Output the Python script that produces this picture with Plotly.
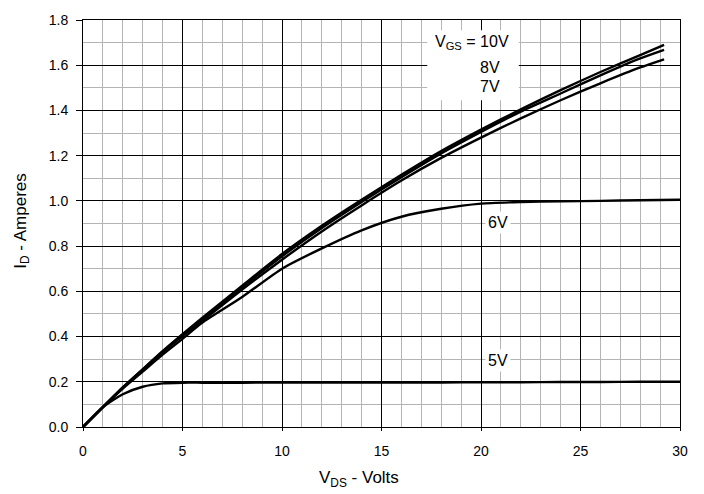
import plotly.graph_objects as go

# Drain-source voltage samples (V)
vds = [0, 1, 2, 3, 4, 5, 6, 8, 10, 12, 14, 16, 18, 20, 22, 24, 26, 28, 29.2]
vds_flat = [0, 1, 2, 3, 4, 5, 6, 8, 10, 12, 14, 16, 18, 20, 22, 24, 26, 28, 30]

# Drain current (A) for each gate voltage
id_10v = [0, 0.088, 0.175, 0.255, 0.335, 0.41, 0.483, 0.625, 0.765, 0.89, 1.005, 1.115, 1.22, 1.315, 1.405, 1.49, 1.57, 1.645, 1.69]
id_8v = [0, 0.088, 0.175, 0.255, 0.333, 0.407, 0.478, 0.618, 0.755, 0.88, 0.995, 1.105, 1.21, 1.305, 1.395, 1.475, 1.555, 1.63, 1.668]
id_7v = [0, 0.088, 0.174, 0.253, 0.33, 0.402, 0.47, 0.608, 0.74, 0.865, 0.98, 1.09, 1.19, 1.28, 1.365, 1.445, 1.52, 1.59, 1.626]
id_6v = [0, 0.088, 0.17, 0.245, 0.32, 0.39, 0.462, 0.575, 0.70, 0.79, 0.87, 0.93, 0.965, 0.988, 0.995, 0.998, 1.0, 1.003, 1.005]
id_5v = [0, 0.088, 0.145, 0.178, 0.193, 0.196, 0.196, 0.196, 0.197, 0.197, 0.197, 0.197, 0.197, 0.198, 0.198, 0.199, 0.199, 0.2, 0.2]

x_ticks = [0, 5, 10, 15, 20, 25, 30]
y_ticks = [0.0, 0.2, 0.4, 0.6, 0.8, 1.0, 1.2, 1.4, 1.6, 1.8]

FONT = "Liberation Sans, Arial, sans-serif"

fig = go.Figure()
for xs, ys in [(vds, id_10v), (vds, id_8v), (vds, id_7v), (vds_flat, id_6v), (vds_flat, id_5v)]:
    fig.add_trace(go.Scatter(x=xs, y=ys, mode="lines",
                             line=dict(color="black", width=2.4, shape="spline", smoothing=0.6),
                             showlegend=False, hoverinfo="skip"))

# white label box for gate voltage labels
fig.add_shape(type="rect", xref="x", yref="y", x0=17.3, x1=21.9, y0=1.445, y1=1.755,
              fillcolor="white", line=dict(width=0), layer="above")

ann_font = dict(family=FONT, size=16, color="black")
fig.add_annotation(x=19.55, y=1.70, xref="x", yref="y", text="V<sub>GS</sub> = 10V", showarrow=False, font=ann_font)
fig.add_annotation(x=20.45, y=1.59, xref="x", yref="y", text="8V", showarrow=False, font=ann_font)
fig.add_annotation(x=20.45, y=1.505, xref="x", yref="y", text="7V", showarrow=False, font=ann_font)
fig.add_annotation(x=20.85, y=0.905, xref="x", yref="y", text="6V", showarrow=False, font=ann_font,
                   bgcolor="white", borderpad=2)
fig.add_annotation(x=20.85, y=0.292, xref="x", yref="y", text="5V", showarrow=False, font=ann_font,
                   bgcolor="white", borderpad=2)

# axis titles
title_font = dict(family=FONT, size=17, color="black")
fig.add_annotation(x=(359 - 83) / 597, y=(427 - 480) / 413, xref="paper", yref="paper",
                   text="V<sub>DS</sub> - Volts", showarrow=False, font=title_font,
                   xanchor="center", yanchor="middle")
fig.add_annotation(x=(21.7 - 83) / 597, y=(427 - 218) / 413, xref="paper", yref="paper",
                   text="I<sub>D</sub> - Amperes", showarrow=False, font=title_font, textangle=-90,
                   xanchor="center", yanchor="middle")

fig.update_layout(
    width=704, height=494,
    margin=dict(l=83, r=24, t=14, b=67),
    paper_bgcolor="white", plot_bgcolor="white",
    font=dict(family=FONT, size=14, color="black"),
)
fig.update_xaxes(
    range=[0, 30], tickvals=x_ticks, ticktext=[str(v) for v in x_ticks],
    showgrid=True, gridcolor="black", gridwidth=1,
    minor=dict(dtick=1, tick0=0, showgrid=True, gridcolor="#b4b4b4", gridwidth=1),
    showline=True, linecolor="black", linewidth=1, mirror=True,
    ticks="outside", ticklen=3, tickcolor="black", ticklabelstandoff=8,
    zeroline=False, tickfont=dict(size=14),
)
fig.update_yaxes(
    range=[0, 1.8], tickvals=y_ticks, ticktext=[f"{v:.1f}" for v in y_ticks],
    showgrid=True, gridcolor="black", gridwidth=1,
    minor=dict(dtick=0.1, tick0=0, showgrid=True, gridcolor="#b4b4b4", gridwidth=1),
    showline=True, linecolor="black", linewidth=1, mirror=True,
    ticks="outside", ticklen=6, tickcolor="black", ticklabelstandoff=5,
    zeroline=False, tickfont=dict(size=14),
)

fig.write_html("out.html")
